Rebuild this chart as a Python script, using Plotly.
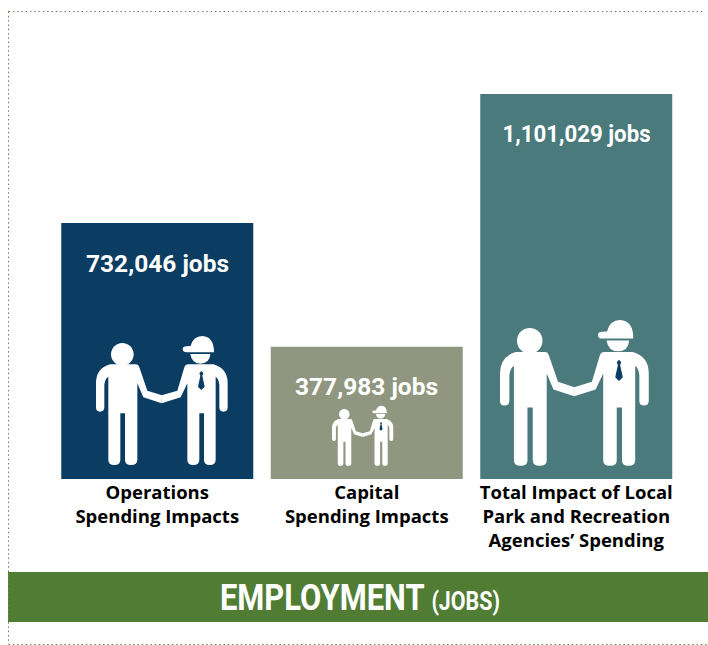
import json
import plotly.graph_objects as go

W, H = 708, 645

categories = ["Operations<br>Spending Impacts", "Capital<br>Spending Impacts",
              "Total Impact of Local<br>Park and Recreation<br>Agencies’ Spending"]
jobs = [732046, 377983, 1101029]
value_labels = ["732,046 jobs", "377,983 jobs", "1,101,029 jobs"]
bar_colors = ["#0B3C61", "#919680", "#4A7A7C"]
GREEN = "#507D33"
FONT = "Roboto"
narrowed = {"EMPLOYMENT (JOBS)": 280, "1,101,029 jobs": 148}


def fx(v):
    return v / W


def fy(v):
    return 1 - v / H


def path(cmds, ox, oy, s):
    out = []
    for c in cmds:
        if c == "Z":
            out.append("Z")
            continue
        letter, pts = c[0], c[1:]
        coords = []
        for x, y in pts:
            coords.append(f"{fx(ox + s * x / 3):.5f},{fy(oy + s * y / 3):.5f}")
        out.append(letter + " ".join(coords))
    return " ".join(out)


LEFT_BODY = [("M", (108, 262)), ("L", (108, 190)), ("Q", (108, 145), (150, 133)), ("L", (228, 133)),
             ("Q", (235, 133), (238, 142)), ("L", (262, 212)), ("L", (306, 226)), ("L", (305, 250)),
             ("L", (250, 232)), ("L", (232, 190)), ("L", (232, 420)), ("Q", (232, 435), (213, 435)),
             ("Q", (195, 435), (195, 420)), ("L", (195, 280)), ("L", (181, 280)), ("L", (181, 420)),
             ("Q", (181, 435), (163, 435)), ("Q", (145, 435), (145, 420)), ("L", (145, 170)),
             ("Q", (135, 175), (133, 195)), ("L", (133, 262)), ("Q", (133, 275), (120, 275)),
             ("Q", (108, 275), (108, 262)), "Z"]
LEFT_HEAD = [("M", (187, 69)), ("C", (206, 69), (221, 84), (221, 103)), ("C", (221, 122), (206, 137), (187, 137)),
             ("C", (168, 137), (153, 122), (153, 103)), ("C", (153, 84), (168, 69), (187, 69)), "Z"]
RIGHT_BODY = [("M", (305, 226)), ("L", (352, 212)), ("L", (373, 142)), ("Q", (376, 133), (385, 133)),
              ("L", (460, 133)), ("Q", (503, 145), (503, 190)), ("L", (503, 262)), ("Q", (503, 275), (490, 275)),
              ("Q", (478, 275), (478, 262)), ("L", (478, 195)), ("Q", (476, 175), (467, 170)), ("L", (467, 420)),
              ("Q", (467, 435), (449, 435)), ("Q", (432, 435), (432, 420)), ("L", (432, 280)), ("L", (418, 280)),
              ("L", (418, 420)), ("Q", (418, 435), (400, 435)), ("Q", (382, 435), (382, 420)), ("L", (382, 190)),
              ("L", (362, 232)), ("L", (305, 250)), "Z"]
RIGHT_HEAD = [("M", (391, 102)), ("L", (451, 102)), ("Q", (449, 130), (421, 131)), ("Q", (395, 130), (391, 102)), "Z"]
CAP = [("M", (392, 78)), ("Q", (400, 48), (427, 48)), ("Q", (462, 50), (462, 97)), ("L", (380, 97)),
       ("Q", (368, 97), (368, 88)), ("Q", (368, 79), (380, 79)), "Z"]
TIE = [("M", (424, 153)), ("L", (430, 160)), ("L", (427, 167)), ("L", (434, 200)), ("L", (424, 210)),
       ("L", (414, 200)), ("L", (421, 167)), ("L", (418, 160)), "Z"]

icons = [(60, 320, 1.0), (315.3, 398.3, 0.465), (459.3, 302, 1.13)]

shapes = []
for ox, oy, s in icons:
    for part in (LEFT_BODY, LEFT_HEAD, RIGHT_BODY, RIGHT_HEAD, CAP):
        shapes.append(dict(type="path", xref="paper", yref="paper", path=path(part, ox, oy, s),
                           fillcolor="white", line=dict(width=0), layer="above"))
    shapes.append(dict(type="path", xref="paper", yref="paper", path=path(TIE, ox, oy, s),
                       fillcolor="#0B3C61", line=dict(width=0), layer="above"))

# green band
shapes.append(dict(type="rect", xref="paper", yref="paper", x0=fx(8), x1=fx(708), y0=fy(622), y1=fy(572),
                   fillcolor=GREEN, line=dict(width=0), layer="below"))
# dotted frame
for x0, y0, x1, y1 in [(8.5, 11.5, 705, 11.5), (8.5, 11.5, 8.5, 644), (8.5, 644.5, 708, 644.5)]:
    shapes.append(dict(type="line", xref="paper", yref="paper", x0=fx(x0), x1=fx(x1), y0=fy(y0), y1=fy(y1),
                       line=dict(color="#5E8A45", width=1, dash="1.5px,2.8px"), layer="below"))

annotations = [dict(x=c, y=v, xref="x", yref="y", yshift=-40, text=f"<b>{t}</b>", showarrow=False,
                    yanchor="middle", font=dict(family=FONT, size=24.5, color="white"))
               for c, v, t in zip(categories, jobs, value_labels)]
annotations.append(dict(x=fx(360), y=fy(598), xref="paper", yref="paper", showarrow=False, xanchor="center",
                        yanchor="middle", width=280,
                        text="<b>EMPLOYMENT </b><b><span style='font-size:25px'>(JOBS)</span></b>",
                        font=dict(family=FONT, size=36, color="white")))

fig = go.Figure(go.Bar(x=categories, y=jobs, marker=dict(color=bar_colors, line=dict(width=0)), hoverinfo="skip"))
fig.update_layout(
    width=W, height=H, margin=dict(l=0, r=0, t=0, b=0), autosize=False,
    paper_bgcolor="white", plot_bgcolor="rgba(0,0,0,0)", showlegend=False, bargap=0.0835,
    shapes=shapes, annotations=annotations,
    xaxis=dict(domain=[52.5 / W, 681 / W], type="category", range=[-0.5, 2.5], showgrid=False, zeroline=False,
               showline=False, ticks="", tickangle=0,
               tickfont=dict(family="Open Sans", size=18.5, color="black", weight=700)),
    yaxis=dict(domain=[1 - 479 / H, 1 - 60 / H], range=[0, 1101029 * 419 / 385], visible=False, showgrid=False,
               zeroline=False),
)
script = """
document.body.style.margin='0';
var narrowed = %s;
document.querySelectorAll('.annotation-text').forEach(function (t) {
  var w = narrowed[t.textContent];
  if (w) { t.setAttribute('textLength', w); t.setAttribute('lengthAdjust', 'spacingAndGlyphs'); }
});
""" % json.dumps(narrowed)
fig.write_html("out.html", config=dict(displayModeBar=False), post_script=script)
